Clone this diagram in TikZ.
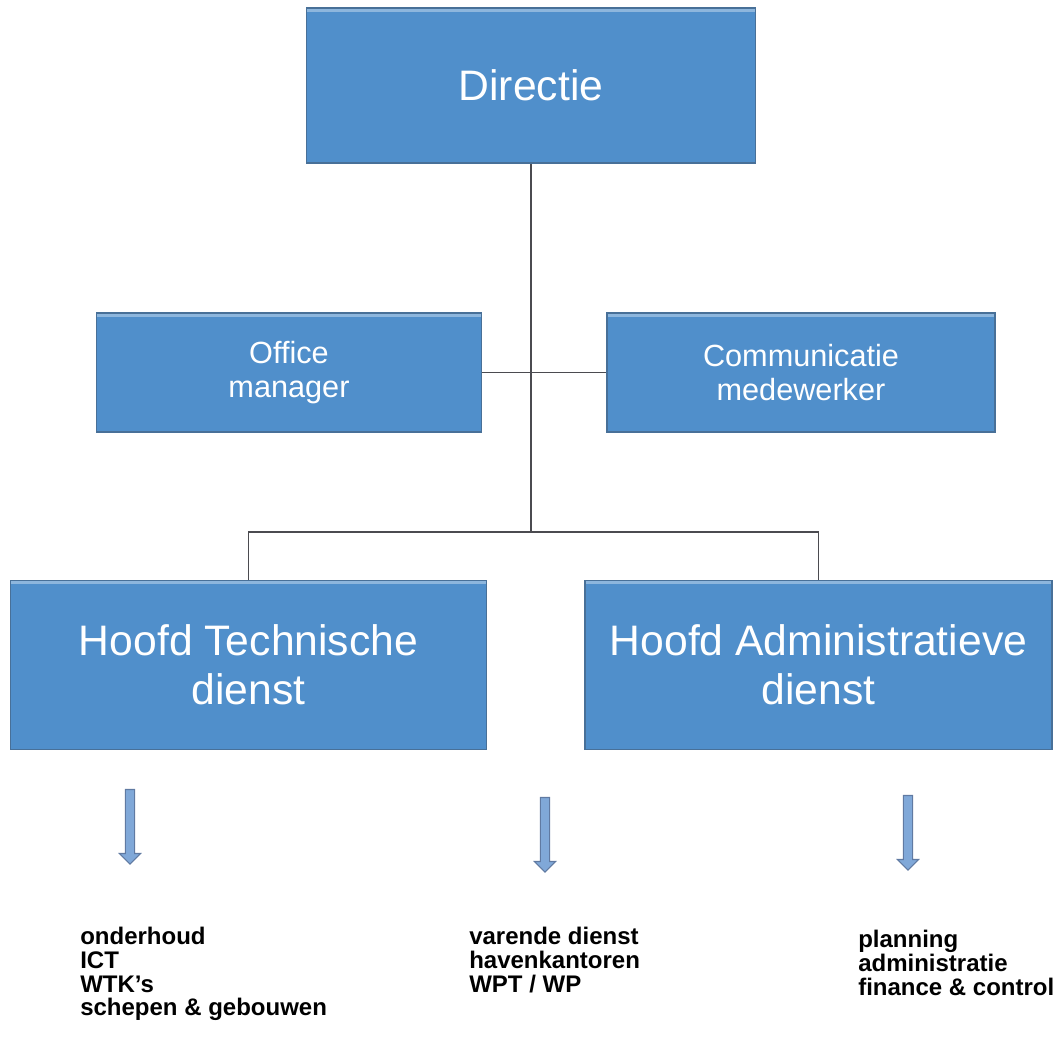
\documentclass[tikz,border=0pt]{standalone}
\usepackage{fontspec}
\setmainfont{Liberation Sans}
\usetikzlibrary{shapes.arrows}

\definecolor{boxblue}{RGB}{80,143,203}
\definecolor{boxedge}{RGB}{72,112,152}
\definecolor{arrowblue}{RGB}{128,168,216}
\definecolor{arrowedge}{RGB}{96,122,162}
\definecolor{linegray}{RGB}{75,75,80}

\tikzset{
  unit/.style={rectangle,fill=boxblue,draw=boxedge,line width=1.2pt,text=white,align=center,inner sep=0pt,
    path picture={\fill[white,opacity=0.35] (path picture bounding box.north west) rectangle ([yshift=-3pt]path picture bounding box.north east);}},
  bigunit/.style={unit,font=\fontsize{32}{37}\selectfont},
  smallunit/.style={unit,font=\fontsize{23}{25}\selectfont}
}

\begin{document}
\begin{tikzpicture}[x=0.75pt, y=-0.75pt]
            \useasboundingbox (0,0) rectangle (1056,1039);
            \tikzstyle{conn}=[draw=linegray,line width=1.3pt]
            \tikzstyle{down}=[single arrow,shape border rotate=270,fill=arrowblue,draw=arrowedge,line width=0.8pt,minimum height=56pt,minimum width=16pt,inner sep=3pt,single arrow head extend=4.5pt]
            \tikzstyle{duties}=[anchor=north west,align=left,inner sep=0pt,font=\bfseries\fontsize{18}{17.8}\selectfont,text=black]

            \node[bigunit,minimum width=337pt,minimum height=116pt] (D_1) at (531,85.5) {Directie};
            \node[smallunit,minimum width=289pt,minimum height=89pt] (S_1) at (289,372.5) {Office\\manager};
            \node[smallunit,minimum width=291pt,minimum height=89pt] (S_2) at (801,372.5) {Communicatie\\medewerker};
            \node[bigunit,minimum width=357pt,minimum height=127pt] (H_1) at (248.5,665) {Hoofd Technische\\dienst};
            \node[bigunit,minimum width=350pt,minimum height=127pt] (H_2) at (818.5,665) {Hoofd Administratieve\\dienst};
            \coordinate (J) at (531,532);

            \draw[conn] (D_1) -- (J);
            \draw[conn] (S_1) -- (S_2);
            \draw[conn] (H_1.north) |- (J) -| (H_2.north);

            \node[down] (P_1) at (130,824.5) {};
            \node[down] (P_2) at (545,832.5) {};
            \node[down] (P_3) at (908,830.5) {};

            \node[duties] (L_1) at (80,927) {onderhoud\\ICT\\WTK's\\schepen \& gebouwen};
            \node[duties] (L_2) at (469,927) {varende dienst\\havenkantoren\\WPT / WP};
            \node[duties] (L_3) at (858,930) {planning\\administratie\\finance \& control};
\end{tikzpicture}
\end{document}
